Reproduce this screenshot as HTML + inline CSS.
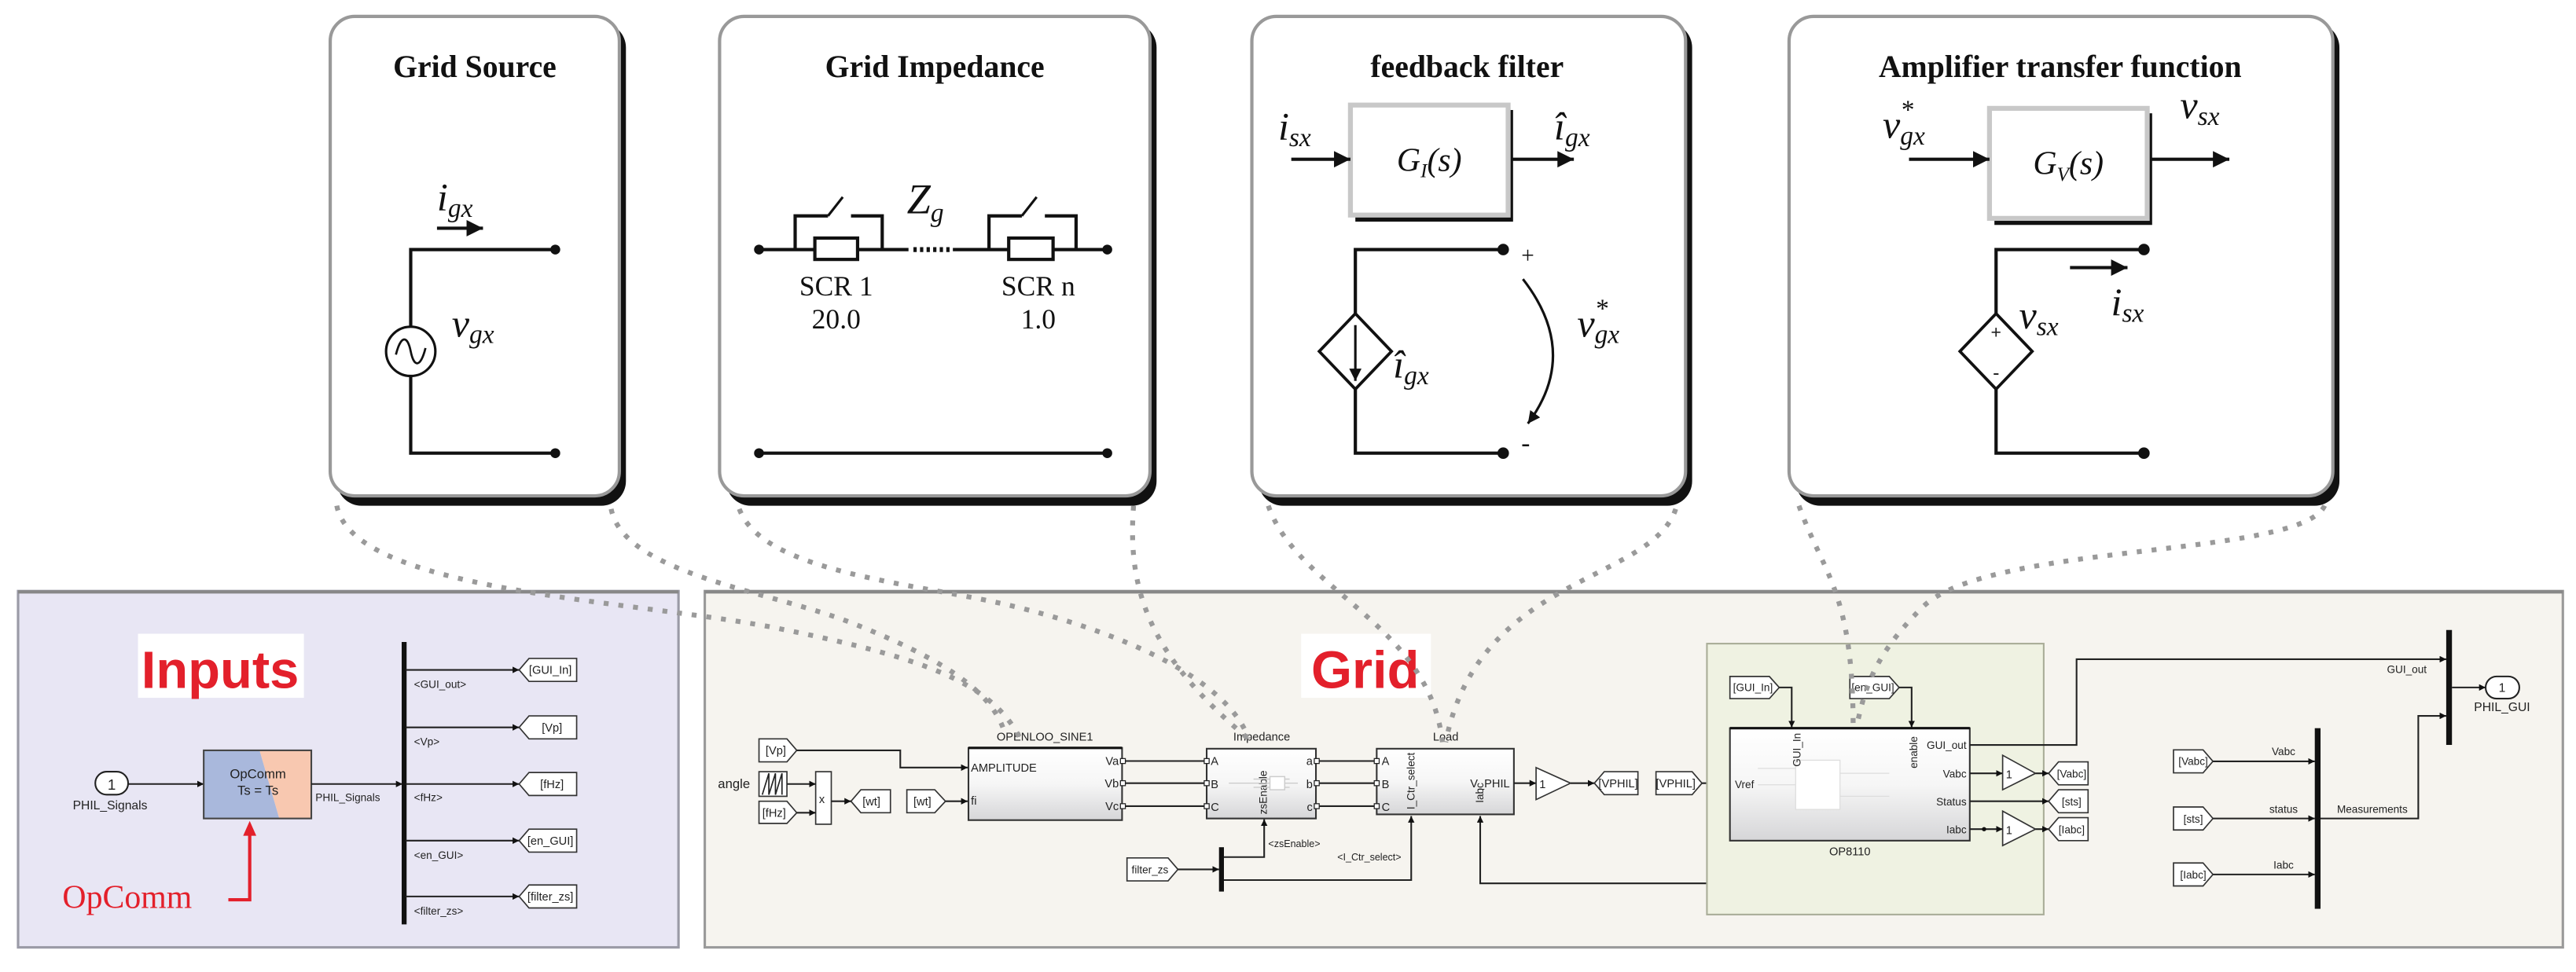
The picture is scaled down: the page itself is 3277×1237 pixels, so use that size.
<!DOCTYPE html>
<html><head><meta charset="utf-8"><style>
html,body{margin:0;padding:0;background:#fff}
svg{display:block}
.t{font-family:"Liberation Sans",sans-serif;fill:#222}
.m{font-family:"Liberation Serif",serif;font-style:italic;fill:#111}
.r{font-family:"Liberation Serif",serif;fill:#111}
.ttl{font-family:"Liberation Serif",serif;font-weight:bold;fill:#111;font-size:19px}
.dot{fill:none;stroke:#9a9a9a;stroke-width:3;stroke-dasharray:3 6}
.w{stroke:#111;stroke-width:2;fill:none}
.s{stroke:#222;stroke-width:1;fill:none}
</style></head><body>
<svg width="3277" height="1237" viewBox="0 0 1568 592" preserveAspectRatio="none" xmlns="http://www.w3.org/2000/svg">
<defs>
<marker id="a" viewBox="0 0 10 10" refX="10" refY="5" markerWidth="5" markerHeight="5" orient="auto"><path d="M0,0L10,5L0,10z" fill="#111"/></marker>
<marker id="b" viewBox="0 0 10 10" refX="10" refY="5" markerWidth="4" markerHeight="4" orient="auto"><path d="M0,0L10,5L0,10z" fill="#111"/></marker>
<linearGradient id="g" x1="0" y1="0" x2="0" y2="1"><stop offset="0" stop-color="#fff"/><stop offset="0.5" stop-color="#f6f6f6"/><stop offset="1" stop-color="#d6d6d8"/></linearGradient>
</defs>

<!-- top panels -->
<g>
<rect x="205" y="14" width="176" height="294" rx="15" fill="#111"/>
<rect x="201" y="10" width="176" height="292" rx="15" fill="#fff" stroke="#999" stroke-width="2"/>
<rect x="442" y="14" width="262" height="294" rx="15" fill="#111"/>
<rect x="438" y="10" width="262" height="292" rx="15" fill="#fff" stroke="#999" stroke-width="2"/>
<rect x="766" y="14" width="264" height="294" rx="15" fill="#111"/>
<rect x="762" y="10" width="264" height="292" rx="15" fill="#fff" stroke="#999" stroke-width="2"/>
<rect x="1093" y="14" width="331" height="294" rx="15" fill="#111"/>
<rect x="1089" y="10" width="331" height="292" rx="15" fill="#fff" stroke="#999" stroke-width="2"/>
</g>
<text class="ttl" x="289" y="47" text-anchor="middle">Grid Source</text>
<text class="ttl" x="569" y="47" text-anchor="middle">Grid Impedance</text>
<text class="ttl" x="893" y="47" text-anchor="middle">feedback filter</text>
<text class="ttl" x="1254" y="47" text-anchor="middle">Amplifier transfer function</text>

<!-- Grid source circuit -->
<path class="w" d="M338,152H250V199M250,229V276H338"/>
<circle cx="338" cy="152" r="3" fill="#111"/><circle cx="338" cy="276" r="3" fill="#111"/>
<circle cx="250" cy="214" r="15" fill="#fff" stroke="#111" stroke-width="1.5"/>
<path d="M241,216c3,-12 7,-12 9,-2s6,10 9,-2" fill="none" stroke="#111" stroke-width="1.3"/>
<line x1="266" y1="139" x2="294" y2="139" stroke="#111" stroke-width="2" marker-end="url(#a)"/>
<text class="m" x="266" y="128" font-size="24">i<tspan font-size="16" dy="4">gx</tspan></text>
<text class="m" x="275" y="205" font-size="24">v<tspan font-size="16" dy="4">gx</tspan></text>

<!-- Grid impedance circuit -->
<path class="w" d="M462,152H496M522,152H537M537,152H553M580,152H614M641,152H674"/>
<path class="w" d="M484,152V131.5H504M518,131.5H537V152"/>
<path class="w" d="M602,152V131.5H622M636,131.5H655V152"/>
<line x1="504" y1="131.5" x2="513" y2="120" stroke="#111" stroke-width="1.5"/>
<line x1="622" y1="131.5" x2="631" y2="120" stroke="#111" stroke-width="1.5"/>
<rect x="496" y="145" width="26" height="13" fill="#fff" stroke="#111" stroke-width="2"/>
<rect x="614" y="145" width="27" height="13" fill="#fff" stroke="#111" stroke-width="2"/>
<path d="M556,152H578" stroke="#111" stroke-width="3" stroke-dasharray="2 2"/>
<circle cx="462" cy="152" r="3" fill="#111"/><circle cx="674" cy="152" r="3" fill="#111"/>
<line class="w" x1="462" y1="276" x2="674" y2="276"/>
<circle cx="462" cy="276" r="3" fill="#111"/><circle cx="674" cy="276" r="3" fill="#111"/>
<text class="m" x="552" y="130" font-size="26">Z<tspan font-size="16" dy="5">g</tspan></text>
<text class="r" x="509" y="180" font-size="17" text-anchor="middle">SCR 1</text>
<text class="r" x="509" y="200" font-size="17" text-anchor="middle">20.0</text>
<text class="r" x="632" y="180" font-size="17" text-anchor="middle">SCR n</text>
<text class="r" x="632" y="200" font-size="17" text-anchor="middle">1.0</text>

<!-- feedback filter -->
<rect x="825" y="67" width="96" height="68" fill="#111"/>
<rect x="822" y="64" width="96" height="67" fill="#fff" stroke="#c8c8c8" stroke-width="3"/>
<text class="m" x="870" y="104" font-size="20" text-anchor="middle">G<tspan font-size="12" dy="4">I</tspan><tspan dy="-4">(s)</tspan></text>
<line x1="786" y1="97" x2="822" y2="97" stroke="#111" stroke-width="2" marker-end="url(#a)"/>
<line x1="920" y1="97" x2="958" y2="97" stroke="#111" stroke-width="2" marker-end="url(#a)"/>
<text class="m" x="778" y="85" font-size="24">i<tspan font-size="16" dy="4">sx</tspan></text>
<text class="m" x="946" y="85" font-size="24">î<tspan font-size="16" dy="4">gx</tspan></text>
<path class="w" d="M915,152H825V191M825,237V276H915"/>
<circle cx="915" cy="152" r="3.5" fill="#111"/><circle cx="915" cy="276" r="3.5" fill="#111"/>
<path d="M825,191L847,214L825,237L803,214z" fill="#fff" stroke="#111" stroke-width="1.8"/>
<line x1="825" y1="198" x2="825" y2="232" stroke="#111" stroke-width="1.5" marker-end="url(#a)"/>
<text class="m" x="848" y="230" font-size="24">î<tspan font-size="16" dy="4">gx</tspan></text>
<path d="M927,170Q962,215 930,258" fill="none" stroke="#111" stroke-width="1.5" marker-end="url(#a)"/>
<text class="r" x="926" y="160" font-size="14">+</text>
<text class="r" x="926" y="275" font-size="16">-</text>
<text class="m" x="960" y="205" font-size="24">v<tspan font-size="16" dy="-12">*</tspan><tspan font-size="16" dx="-8" dy="16">gx</tspan></text>

<!-- amplifier -->
<rect x="1214" y="69" width="96" height="68" fill="#111"/>
<rect x="1211" y="66" width="96" height="67" fill="#fff" stroke="#c8c8c8" stroke-width="3"/>
<text class="m" x="1259" y="106" font-size="20" text-anchor="middle">G<tspan font-size="12" dy="4">V</tspan><tspan dy="-4">(s)</tspan></text>
<line x1="1162" y1="97" x2="1211" y2="97" stroke="#111" stroke-width="2" marker-end="url(#a)"/>
<line x1="1309" y1="97" x2="1357" y2="97" stroke="#111" stroke-width="2" marker-end="url(#a)"/>
<text class="m" x="1146" y="84" font-size="24">v<tspan font-size="16" dy="-12">*</tspan><tspan font-size="16" dx="-8" dy="16">gx</tspan></text>
<text class="m" x="1327" y="72" font-size="24">v<tspan font-size="16" dy="4">sx</tspan></text>
<path class="w" d="M1305,152H1215V191M1215,237V276H1305"/>
<circle cx="1305" cy="152" r="3.5" fill="#111"/><circle cx="1305" cy="276" r="3.5" fill="#111"/>
<path d="M1215,191L1237,214L1215,237L1193,214z" fill="#fff" stroke="#111" stroke-width="1.8"/>
<text class="t" x="1215" y="206" font-size="11" text-anchor="middle">+</text>
<text class="t" x="1215" y="231" font-size="12" text-anchor="middle">-</text>
<line x1="1260" y1="163" x2="1295" y2="163" stroke="#111" stroke-width="2" marker-end="url(#a)"/>
<text class="m" x="1229" y="200" font-size="24">v<tspan font-size="16" dy="4">sx</tspan></text>
<text class="m" x="1285" y="192" font-size="24">i<tspan font-size="16" dy="4">sx</tspan></text>

<!-- bottom panels -->
<rect x="11" y="360" width="402" height="217" fill="#e8e6f4" stroke="#9a9aa6" stroke-width="1.5"/>
<rect x="429" y="360" width="1131" height="217" fill="#f6f4ef" stroke="#9a9a9a" stroke-width="1.5"/>
<line x1="11" y1="360.5" x2="413" y2="360.5" stroke="#888" stroke-width="2"/>
<line x1="429" y1="360.5" x2="1560" y2="360.5" stroke="#888" stroke-width="2"/>

<!-- Inputs -->
<rect x="84" y="386" width="101" height="39" fill="#fff"/>
<text x="134" y="419" font-family="Liberation Sans" font-weight="bold" font-size="32" fill="#e3202b" text-anchor="middle">Inputs</text>
<rect x="58" y="470" width="20" height="14" rx="7" fill="#fff" stroke="#222"/>
<text class="t" x="68" y="481" font-size="9" text-anchor="middle">1</text>
<text class="t" x="67" y="493" font-size="7.5" text-anchor="middle">PHIL_Signals</text>
<line class="s" x1="78" y1="477.5" x2="124" y2="477.5" marker-end="url(#b)"/>
<polygon points="124,457 158,457 170,498.5 124,498.5" fill="#a9b8dc"/>
<polygon points="158,457 189.5,457 189.5,498.5 170,498.5" fill="#f8c8b0"/>
<rect x="124" y="457" width="65.5" height="41.5" fill="none" stroke="#444" stroke-width="1"/>
<text class="t" x="157" y="474" font-size="8" text-anchor="middle">OpComm</text>
<text class="t" x="157" y="484" font-size="8" text-anchor="middle">Ts = Ts</text>
<line class="s" x1="189.5" y1="477.5" x2="245" y2="477.5" marker-end="url(#b)"/>
<text class="t" x="192" y="488" font-size="6.5">PHIL_Signals</text>
<rect x="244.5" y="391" width="3" height="172" fill="#111"/>
<g class="t" font-size="6.5">
<line class="s" x1="247" y1="408" x2="316" y2="408" marker-end="url(#b)"/><text x="252" y="419">&lt;GUI_out&gt;</text>
<line class="s" x1="247" y1="443" x2="316" y2="443" marker-end="url(#b)"/><text x="252" y="454">&lt;Vp&gt;</text>
<line class="s" x1="247" y1="477.5" x2="316" y2="477.5" marker-end="url(#b)"/><text x="252" y="488">&lt;fHz&gt;</text>
<line class="s" x1="247" y1="512" x2="316" y2="512" marker-end="url(#b)"/><text x="252" y="523">&lt;en_GUI&gt;</text>
<line class="s" x1="247" y1="546" x2="316" y2="546" marker-end="url(#b)"/><text x="252" y="557">&lt;filter_zs&gt;</text>
</g>
<g fill="#fff" stroke="#333" stroke-width="0.8">
<polygon points="316,408 322,401 351,401 351,415 322,415"/>
<polygon points="316,443 322,436 351,436 351,450 322,450"/>
<polygon points="316,477.5 322,470.5 351,470.5 351,484.5 322,484.5"/>
<polygon points="316,512 322,505 351,505 351,519 322,519"/>
<polygon points="316,546 322,539 351,539 351,553 322,553"/>
</g>
<g class="t" font-size="7" text-anchor="middle">
<text x="335" y="410.5">[GUI_In]</text><text x="336" y="445.5">[Vp]</text><text x="336" y="480">[fHz]</text><text x="335" y="514.5">[en_GUI]</text><text x="335" y="548.5">[filter_zs]</text>
</g>
<text x="38" y="553" font-family="Liberation Serif" font-size="20" fill="#e3202b">OpComm</text>
<path d="M139,548H152V506" fill="none" stroke="#e3202b" stroke-width="2"/>
<path d="M148,509L152,500L156,509z" fill="#e3202b"/>

<!-- Grid panel -->
<rect x="792" y="386" width="79" height="39" fill="#fff"/>
<text x="831" y="419" font-family="Liberation Sans" font-weight="bold" font-size="32" fill="#e3202b" text-anchor="middle">Grid</text>
<g fill="#fff" stroke="#333" stroke-width="0.8">
<polygon points="462,450 479,450 485,457 479,464 462,464"/>
<polygon points="462,488 479,488 485,495 479,501.5 462,501.5"/>
<polygon points="518,488 524,481 542,481 542,495 524,495"/>
<polygon points="552,481 569,481 575.5,488 569,495 552,495"/>
<rect x="462" y="470" width="17" height="15"/>
<rect x="496.5" y="470" width="9.5" height="32"/>
</g>
<path d="M464,484l4,-13v13l4,-13v13l4,-13v13" fill="none" stroke="#222" stroke-width="0.8"/>
<g class="t" font-size="7">
<text x="466" y="459.5">[Vp]</text><text x="464" y="497.5">[fHz]</text>
<text x="525" y="490.5">[wt]</text><text x="556" y="490.5">[wt]</text>
<text x="437" y="480" font-size="8">angle</text>
<text x="498.5" y="489" font-size="7">x</text>
</g>
<path class="s" d="M485,457H548V467.5H589" marker-end="url(#b)"/>
<line class="s" x1="479" y1="477.5" x2="496.5" y2="477.5" marker-end="url(#b)"/>
<line class="s" x1="485" y1="495" x2="496.5" y2="495" marker-end="url(#b)"/>
<line class="s" x1="506" y1="488" x2="518" y2="488" marker-end="url(#b)"/>
<line class="s" x1="575.5" y1="488" x2="589" y2="488" marker-end="url(#b)"/>
<!-- OPENLOO -->
<rect x="589.5" y="455.5" width="93.5" height="44" fill="url(#g)" stroke="#333" stroke-width="1"/>
<line x1="589.5" y1="455.5" x2="683" y2="455.5" stroke="#111" stroke-width="1.5"/>
<g class="t" font-size="7">
<text x="636" y="451" text-anchor="middle">OPENLOO_SINE1</text>
<text x="591" y="470">AMPLITUDE</text><text x="591" y="490">fi</text>
<text x="681" y="466" text-anchor="end">Va</text><text x="681" y="479.5" text-anchor="end">Vb</text><text x="681" y="493.5" text-anchor="end">Vc</text>
</g>
<!-- Impedance -->
<rect x="734.5" y="456" width="66.5" height="42.5" fill="url(#g)" stroke="#333" stroke-width="1"/>
<g class="t" font-size="7">
<text x="768" y="451" text-anchor="middle">Impedance</text>
<text x="737" y="466">A</text><text x="737" y="480">B</text><text x="737" y="494">C</text>
<text x="799" y="466" text-anchor="end">a</text><text x="799" y="480" text-anchor="end">b</text><text x="799" y="494" text-anchor="end">c</text>
<text transform="translate(771,496) rotate(-90)" font-size="6.5">zsEnable</text>
</g>
<path d="M748,477H790M763,474.5H785M763,479.5H785" stroke="#ccc" stroke-width="0.7"/>
<rect x="773" y="473" width="9" height="8" fill="#fff" stroke="#ccc" stroke-width="0.7"/>
<!-- Load -->
<rect x="838" y="456" width="83.5" height="40" fill="url(#g)" stroke="#333" stroke-width="1"/>
<g class="t" font-size="7">
<text x="880" y="451" text-anchor="middle">Load</text>
<text x="841" y="466">A</text><text x="841" y="480">B</text><text x="841" y="494">C</text>
<text x="919" y="479.5" text-anchor="end">V_PHIL</text>
<text transform="translate(861,493) rotate(-90)" font-size="6.5">I_Ctr_select</text>
<text transform="translate(903,489) rotate(-90)" font-size="6.5">Iabc</text>
</g>
<g class="s">
<line x1="683" y1="463.5" x2="734.5" y2="463.5"/><line x1="683" y1="477" x2="734.5" y2="477"/><line x1="683" y1="491" x2="734.5" y2="491"/>
<line x1="801" y1="463.5" x2="838" y2="463.5"/><line x1="801" y1="477" x2="838" y2="477"/><line x1="801" y1="491" x2="838" y2="491"/>
</g>
<g fill="#fff" stroke="#222" stroke-width="0.6">
<rect x="682" y="462" width="3" height="3"/><rect x="682" y="475.5" width="3" height="3"/><rect x="682" y="489.5" width="3" height="3"/>
<rect x="733" y="462" width="3" height="3"/><rect x="733" y="475.5" width="3" height="3"/><rect x="733" y="489.5" width="3" height="3"/>
<rect x="800" y="462" width="3" height="3"/><rect x="800" y="475.5" width="3" height="3"/><rect x="800" y="489.5" width="3" height="3"/>
<rect x="836.5" y="462" width="3" height="3"/><rect x="836.5" y="475.5" width="3" height="3"/><rect x="836.5" y="489.5" width="3" height="3"/>
</g>
<line class="s" x1="921.5" y1="477" x2="935" y2="477" marker-end="url(#b)"/>
<polygon points="935,467.5 956,477 935,487" fill="#fff" stroke="#333" stroke-width="0.8"/>
<text class="t" x="937" y="480" font-size="7">1</text>
<line class="s" x1="956" y1="477" x2="970.5" y2="477" marker-end="url(#b)"/>
<polygon points="970.5,477 976.5,470 997,470 997,484 976.5,484" fill="#fff" stroke="#333" stroke-width="0.8"/>
<text class="t" x="985" y="479.5" font-size="7" text-anchor="middle">[VPHIL]</text>
<polygon points="1008,470 1030,470 1036,477 1030,484 1008,484" fill="#fff" stroke="#333" stroke-width="0.8"/>
<text class="t" x="1020" y="479.5" font-size="7" text-anchor="middle">[VPHIL]</text>
<line class="s" x1="1036" y1="477" x2="1053" y2="477" marker-end="url(#b)"/>
<!-- filter_zs demux -->
<polygon points="686,522.5 711,522.5 717,529.5 711,536.5 686,536.5" fill="#fff" stroke="#333" stroke-width="0.8"/>
<text class="t" x="700" y="532" font-size="6.5" text-anchor="middle">filter_zs</text>
<line class="s" x1="717" y1="529.5" x2="742" y2="529.5" marker-end="url(#b)"/>
<rect x="742" y="516" width="3" height="27" fill="#111"/>
<path class="s" d="M745,522H769.5V499" marker-end="url(#b)"/>
<path class="s" d="M745,536H859V497" marker-end="url(#b)"/>
<text class="t" x="772" y="516" font-size="6">&lt;zsEnable&gt;</text>
<text class="t" x="814" y="524" font-size="6">&lt;I_Ctr_select&gt;</text>
<path class="s" d="M1207.7,505V538H901V497" marker-end="url(#b)"/>

<!-- OP8110 area -->
<rect x="1039" y="392" width="205" height="165" fill="#eff2e2" stroke="#a9ad98" stroke-width="1"/>
<polygon points="1053,412 1077,412 1083,418.7 1077,425.5 1053,425.5" fill="#fff" stroke="#333" stroke-width="0.8"/>
<polygon points="1126,412 1150,412 1156,418.7 1150,425.5 1126,425.5" fill="#fff" stroke="#333" stroke-width="0.8"/>
<text class="t" x="1067" y="421" font-size="6.5" text-anchor="middle">[GUI_In]</text>
<text class="t" x="1140" y="421" font-size="6.5" text-anchor="middle">[en_GUI]</text>
<path class="s" d="M1083,418.7H1090.6V443" marker-end="url(#b)"/>
<path class="s" d="M1156,418.7H1163.6V443" marker-end="url(#b)"/>
<rect x="1053" y="443.5" width="146" height="68.5" fill="url(#g)" stroke="#333" stroke-width="1"/>
<line x1="1053" y1="443.5" x2="1199" y2="443.5" stroke="#111" stroke-width="1.5"/>
<rect x="1093" y="463" width="27" height="30" fill="#fff" stroke="#ddd" stroke-width="0.6"/>
<path d="M1070,468H1093M1070,478H1093M1120,471H1150M1120,485H1150" stroke="#ddd" stroke-width="0.6"/>
<g class="t" font-size="6.5">
<text x="1126" y="521" text-anchor="middle" font-size="7">OP8110</text>
<text x="1056" y="480">Vref</text>
<text x="1197" y="456" text-anchor="end">GUI_out</text>
<text x="1197" y="473.5" text-anchor="end">Vabc</text>
<text x="1197" y="490.5" text-anchor="end">Status</text>
<text x="1197" y="507.5" text-anchor="end">Iabc</text>
<text transform="translate(1096,467) rotate(-90)">GUI_In</text>
<text transform="translate(1167,468) rotate(-90)">enable</text>
</g>
<line class="s" x1="1199" y1="471" x2="1219" y2="471" marker-end="url(#b)"/>
<line class="s" x1="1199" y1="505" x2="1219" y2="505" marker-end="url(#b)"/>
<line class="s" x1="1199" y1="488" x2="1247" y2="488" marker-end="url(#b)"/>
<circle cx="1207.7" cy="505" r="1.3" fill="#111"/>
<polygon points="1219,460 1239,471 1219,481" fill="#fff" stroke="#333" stroke-width="0.8"/>
<polygon points="1219,494 1239,505 1219,515" fill="#fff" stroke="#333" stroke-width="0.8"/>
<text class="t" x="1221" y="474" font-size="7">1</text><text class="t" x="1221" y="508" font-size="7">1</text>
<line class="s" x1="1239" y1="471" x2="1247" y2="471" marker-end="url(#b)"/>
<line class="s" x1="1239" y1="505" x2="1247" y2="505" marker-end="url(#b)"/>
<g fill="#fff" stroke="#333" stroke-width="0.8">
<polygon points="1247,471 1253,464 1271,464 1271,478 1253,478"/>
<polygon points="1247,488 1253,481 1271,481 1271,495 1253,495"/>
<polygon points="1247,505 1253,498 1271,498 1271,512 1253,512"/>
</g>
<g class="t" font-size="6.5" text-anchor="middle">
<text x="1261" y="473.5">[Vabc]</text><text x="1261" y="490.5">[sts]</text><text x="1261" y="507.5">[Iabc]</text>
</g>
<path class="s" d="M1199,453.7H1264V401.5H1489" marker-end="url(#b)"/>
<rect x="1489" y="383.7" width="3.5" height="70" fill="#111"/>
<text class="t" x="1465" y="410" font-size="6.5" text-anchor="middle">GUI_out</text>
<line class="s" x1="1492.5" y1="418.7" x2="1513" y2="418.7" marker-end="url(#b)"/>
<rect x="1513" y="412" width="20.5" height="13.5" rx="6.7" fill="#fff" stroke="#222"/>
<text class="t" x="1523" y="421.5" font-size="7.5" text-anchor="middle">1</text>
<text class="t" x="1523" y="433" font-size="7.5" text-anchor="middle">PHIL_GUI</text>
<rect x="1409" y="443.5" width="3.5" height="110" fill="#111"/>
<g fill="#fff" stroke="#333" stroke-width="0.8">
<polygon points="1323,456.7 1341,456.7 1347,463.7 1341,470.7 1323,470.7"/>
<polygon points="1323,491.5 1341,491.5 1347,498.5 1341,505.5 1323,505.5"/>
<polygon points="1323,525.6 1341,525.6 1347,532.6 1341,539.6 1323,539.6"/>
</g>
<g class="t" font-size="6.5">
<text x="1335" y="466" text-anchor="middle">[Vabc]</text><text x="1335" y="501" text-anchor="middle">[sts]</text><text x="1335" y="535" text-anchor="middle">[Iabc]</text>
<text x="1390" y="460" text-anchor="middle">Vabc</text><text x="1390" y="495" text-anchor="middle">status</text><text x="1390" y="529" text-anchor="middle">Iabc</text>
<text x="1444" y="495" text-anchor="middle">Measurements</text>
</g>
<line class="s" x1="1347" y1="463.7" x2="1409" y2="463.7" marker-end="url(#b)"/>
<line class="s" x1="1347" y1="498.5" x2="1409" y2="498.5" marker-end="url(#b)"/>
<line class="s" x1="1347" y1="532.6" x2="1409" y2="532.6" marker-end="url(#b)"/>
<path class="s" d="M1412.5,498.5H1472V436H1489" marker-end="url(#b)"/>

<!-- dotted connectors -->
<path class="dot" d="M205,308C215,360 380,365 470,382C560,400 605,415 622,452"/>
<path class="dot" d="M372,310C380,350 470,360 520,380C570,400 605,420 612,448"/>
<path class="dot" d="M450,310C465,350 560,355 620,370C700,390 750,420 760,450"/>
<path class="dot" d="M690,308C686,360 700,400 760,450"/>
<path class="dot" d="M772,308C790,360 870,380 878,452"/>
<path class="dot" d="M1020,310C1005,355 900,350 880,452"/>
<path class="dot" d="M1095,308C1110,350 1128,360 1128,443"/>
<path class="dot" d="M1415,308C1400,340 1210,330 1170,370C1140,400 1135,420 1130,443"/>
</svg>
</body></html>
